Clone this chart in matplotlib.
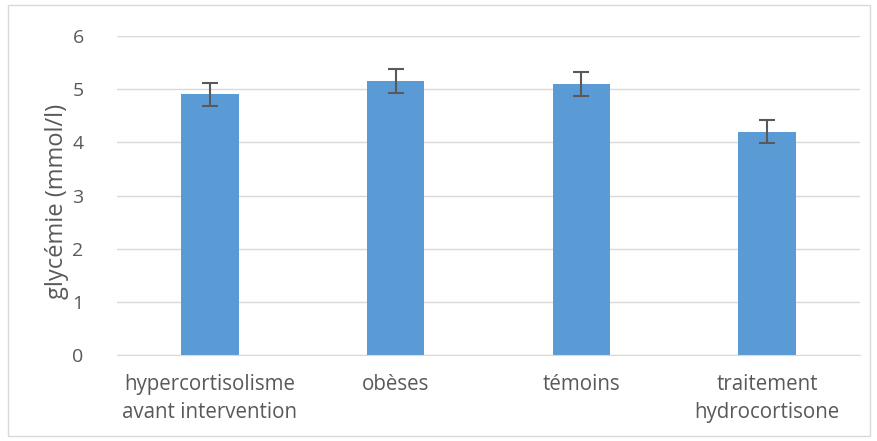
import numpy as np
import matplotlib.pyplot as plt
from matplotlib.patches import Rectangle

plt.rcParams['font.family'] = ['Open Sans', 'DejaVu Sans']

# Données
categories = ['hypercortisolisme\navant intervention', 'obèses', 'témoins',
              'traitement\nhydrocortisone']
glycemie = [4.9, 5.15, 5.1, 4.2]
erreurs = [0.22, 0.22, 0.22, 0.22]

fig = plt.figure(figsize=(8.77, 4.41), dpi=100)
ax = fig.add_axes([117 / 877, (441 - 355) / 441, 743 / 877, (355 - 36) / 441])

x = np.arange(len(categories))
ax.bar(x, glycemie, width=0.31, color='#5b9bd5', zorder=2,
       yerr=erreurs, error_kw=dict(ecolor='#595959', elinewidth=1.5,
                                   capsize=6, capthick=1.5, zorder=3))

ax.set_xlim(-0.5, 3.5)
ax.set_ylim(0, 6)
ax.set_yticks(range(0, 7))
ax.yaxis.grid(True, color='#d9d9d9', linewidth=1, zorder=0)
ax.set_axisbelow(True)
for s in ['top', 'right', 'left']:
    ax.spines[s].set_visible(False)
ax.spines['bottom'].set_color('#d9d9d9')
ax.tick_params(axis='y', length=0, labelsize=14, colors='#595959', pad=24)
ax.tick_params(axis='x', length=0, labelsize=14.8, colors='#595959', pad=14)
ax.set_xticks(x)
ax.set_xticklabels(categories, linespacing=1.42)
ax.set_ylabel('glycémie (mmol/l)', fontsize=17, color='#595959')
ax.yaxis.set_label_coords(-0.064, 0.48)

# Cadre autour du graphique
fig.patches.append(Rectangle((8 / 877, 5 / 441), 862 / 877, 431 / 441,
                             transform=fig.transFigure, fill=False,
                             edgecolor='#d9d9d9', linewidth=1))

fig.savefig('out.png', dpi=100)
